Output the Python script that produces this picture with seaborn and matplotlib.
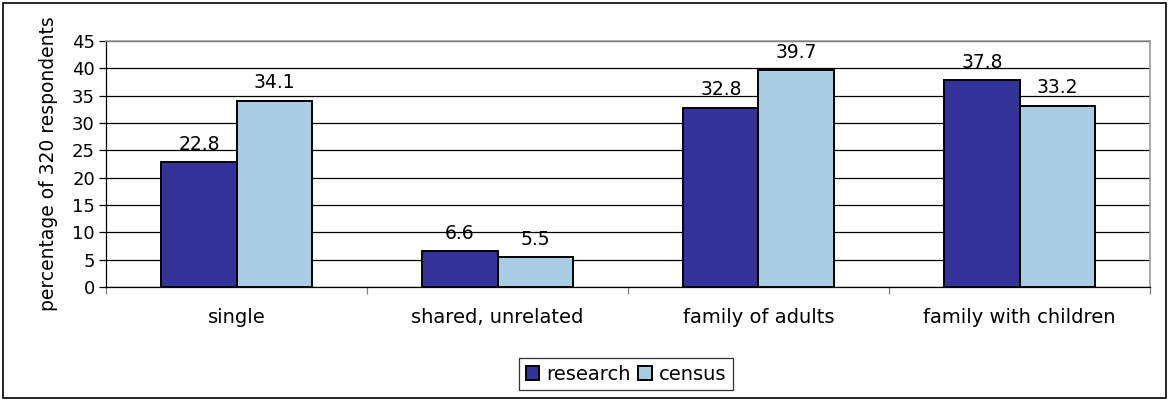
import matplotlib
matplotlib.use("Agg")
import matplotlib.pyplot as plt
import seaborn as sns
import pandas as pd
import numpy as np
from matplotlib.patches import Rectangle

categories = ["single", "shared, unrelated", "family of adults", "family with children"]
research = [22.8, 6.6, 32.8, 37.8]
census = [34.1, 5.5, 39.7, 33.2]
series_names = ["research", "census"]
y_ticks = [0, 5, 10, 15, 20, 25, 30, 35, 40, 45]

df = pd.DataFrame({
    "category": categories * 2,
    "value": research + census,
    "series": [series_names[0]] * len(categories) + [series_names[1]] * len(categories),
})

sns.set_theme(style="white")
plt.rcParams["font.family"] = ["DejaVu Sans"]
plt.rcParams["text.color"] = "black"
plt.rcParams["axes.labelcolor"] = "black"
plt.rcParams["xtick.color"] = "black"
plt.rcParams["ytick.color"] = "black"

fig = plt.figure(figsize=(11.69, 4.01), dpi=100)
ax = fig.add_axes([106 / 1169, 1 - 287 / 401, (1150 - 106) / 1169, (287 - 41) / 401])

palette = {"research": "#333399", "census": "#A8CDE2"}
sns.barplot(data=df, x="category", y="value", hue="series", order=categories,
            hue_order=series_names, palette=palette, width=0.575, gap=0,
            edgecolor="black", linewidth=1.4, saturation=1, ax=ax, legend=True)

for cont in ax.containers:
    ax.bar_label(cont, fmt="%.1f", padding=6, fontsize=13.5, color="black")

ax.set_ylim(0, 45)
ax.set_xlim(-0.5, len(categories) - 0.5)
ax.set_yticks(y_ticks)
ax.yaxis.grid(True, color="black", linewidth=0.9)
ax.set_axisbelow(True)
ax.set_xlabel("")
ax.set_ylabel("percentage of 320 respondents", fontsize=13.5, labelpad=10)
ax.tick_params(axis="y", which="major", direction="out", length=5, width=0.9,
               color="black", labelsize=13, pad=3, left=True)
ax.tick_params(axis="x", which="major", length=0, labelsize=14, pad=15)
ax.set_xticks(np.arange(-0.5, len(categories), 1.0), minor=True)
ax.tick_params(axis="x", which="minor", direction="out", length=5, width=0.9,
               color="#808080", bottom=True)

for side in ["left", "bottom"]:
    ax.spines[side].set_color("black")
    ax.spines[side].set_linewidth(0.9)
for side in ["top", "right"]:
    ax.spines[side].set_visible(True)
    ax.spines[side].set_color("#999999")
    ax.spines[side].set_linewidth(1.2)

leg = ax.legend(loc="center", bbox_to_anchor=(626 / 1169, 1 - 374 / 401),
                bbox_transform=fig.transFigure, ncol=2, frameon=True, fancybox=False,
                edgecolor="black", fontsize=14, handlelength=0.7, handleheight=0.7,
                handletextpad=0.35, columnspacing=0.4, borderpad=0.35)
leg.get_frame().set_linewidth(0.9)
for h in leg.legend_handles:
    h.set_edgecolor("black")
    h.set_linewidth(1.4)

fig.patches.append(Rectangle((3 / 1169, 3 / 401), 1 - 6 / 1169, 1 - 6 / 401,
                             transform=fig.transFigure, fill=False,
                             edgecolor="black", linewidth=1.2))

fig.savefig("out.png", dpi=100, facecolor="white")
